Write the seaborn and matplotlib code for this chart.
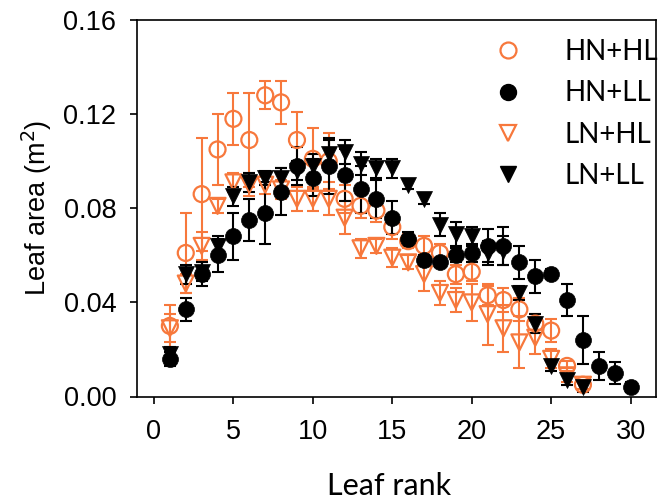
import numpy as np
import pandas as pd
import seaborn as sns
import matplotlib
matplotlib.use("Agg")
import matplotlib.pyplot as plt
from matplotlib.lines import Line2D

# ---------------- data ----------------
ranks_HNHL = list(range(1, 28))
HNHL_mean = [0.030, 0.061, 0.086, 0.105, 0.118, 0.109, 0.128, 0.125, 0.109, 0.101,
             0.100, 0.084, 0.081, 0.079, 0.072, 0.066, 0.064, 0.061, 0.052, 0.053,
             0.043, 0.041, 0.037, 0.031, 0.028, 0.013, 0.005]
HNHL_err = [0.009, 0.017, 0.024, 0.015, 0.011, 0.020, 0.006, 0.009, 0.012, 0.013,
            0.012, 0.006, 0.005, 0.005, 0.005, 0.003, 0.004, 0.004, 0.004, 0.004,
            0.004, 0.005, 0.005, 0.004, 0.005, 0.002, 0.002]

ranks_HNLL = list(range(1, 31))
HNLL_mean = [0.016, 0.037, 0.052, 0.060, 0.068, 0.075, 0.078, 0.087, 0.098, 0.093,
             0.098, 0.094, 0.088, 0.084, 0.076, 0.067, 0.058, 0.057, 0.060, 0.061,
             0.064, 0.064, 0.057, 0.051, 0.052, 0.041, 0.024, 0.013, 0.010, 0.004]
HNLL_err = [0.003, 0.005, 0.005, 0.007, 0.010, 0.009, 0.013, 0.010, 0.008, 0.008,
            0.012, 0.011, 0.010, 0.008, 0.007, 0.003, 0.002, 0.002, 0.003, 0.004,
            0.007, 0.008, 0.007, 0.007, 0.002, 0.007, 0.010, 0.006, 0.0045, 0.002]

ranks_LNHL = list(range(1, 28))
LNHL_mean = [0.029, 0.048, 0.064, 0.081, 0.091, 0.090, 0.090, 0.088, 0.084, 0.084,
             0.084, 0.076, 0.063, 0.064, 0.059, 0.057, 0.052, 0.044, 0.041, 0.040,
             0.035, 0.029, 0.023, 0.025, 0.016, 0.009, 0.005]
LNHL_err = [0.006, 0.004, 0.006, 0.003, 0.004, 0.005, 0.004, 0.004, 0.005, 0.005,
            0.007, 0.007, 0.004, 0.003, 0.004, 0.003, 0.007, 0.005, 0.005, 0.008,
            0.013, 0.010, 0.011, 0.007, 0.004, 0.003, 0.002]

ranks_LNLL = list(range(1, 28))
LNLL_mean = [0.018, 0.052, 0.053, 0.064, 0.085, 0.091, 0.093, 0.093, 0.096, 0.098,
             0.103, 0.104, 0.099, 0.097, 0.097, 0.090, 0.084, 0.073, 0.069, 0.068,
             0.061, 0.062, 0.044, 0.031, 0.013, 0.007, 0.004]
LNLL_err = [0.003, 0.004, 0.004, 0.004, 0.004, 0.004, 0.003, 0.004, 0.004, 0.005,
            0.006, 0.005, 0.005, 0.004, 0.004, 0.002, 0.002, 0.005, 0.005, 0.004,
            0.005, 0.006, 0.003, 0.004, 0.002, 0.002, 0.002]

series_names = ["HN+HL", "HN+LL", "LN+HL", "LN+LL"]
x_ticks = [0, 5, 10, 15, 20, 25, 30]
y_ticks = [0.00, 0.04, 0.08, 0.12, 0.16]

# ---------------- style ----------------
ORANGE = "#F7783C"
BLACK = "#000000"
MS = 11.5          # marker size in points (diameter)
tick_font = ["Liberation Sans", "DejaVu Sans"]
cal_font = ["Lato", "DejaVu Sans"]

fig = plt.figure(figsize=(6.62, 5.03), dpi=100)
ax = fig.add_axes([137 / 662, (503 - 396.5) / 503, (656 - 137) / 662, (396.5 - 20) / 503])

specs = {
    "HN+HL": (ranks_HNHL, HNHL_mean, HNHL_err, "o", ORANGE, False),
    "LN+HL": (ranks_LNHL, LNHL_mean, LNHL_err, "v", ORANGE, False),
    "HN+LL": (ranks_HNLL, HNLL_mean, HNLL_err, "o", BLACK, True),
    "LN+LL": (ranks_LNLL, LNLL_mean, LNLL_err, "v", BLACK, True),
}

for name in ["HN+HL", "LN+HL", "HN+LL", "LN+LL"]:
    xs, ys, es, mk, col, filled = specs[name]
    ax.errorbar(xs, ys, yerr=es, fmt="none", ecolor=col, elinewidth=1.5,
                capsize=4.5, capthick=1.5, zorder=2)
    df = pd.DataFrame({"rank": xs, "area": ys})
    sns.scatterplot(data=df, x="rank", y="area", marker=mk, s=MS ** 2, ax=ax,
                    color=col, zorder=3, legend=False)
    coll = ax.collections[-1]
    if filled:
        coll.set_facecolor(col)
        coll.set_edgecolor(col)
        coll.set_linewidth(0.5)
    else:
        coll.set_facecolor("none")
        coll.set_edgecolor(col)
        coll.set_linewidth(1.6)
    coll.set_zorder(3)

ax.set_xlim(-1.07, 31.6)
ax.set_ylim(0, 0.16)
ax.set_xticks(x_ticks)
ax.set_yticks(y_ticks)
ax.set_xticklabels([str(v) for v in x_ticks], family=tick_font, fontsize=19.5)
ax.set_yticklabels([f"{v:.2f}" for v in y_ticks], family=tick_font, fontsize=19.5)
ax.tick_params(axis="both", direction="out", length=5, width=1.2, color="black")
ax.tick_params(axis="x", pad=11)
ax.tick_params(axis="y", pad=10)
for sp in ax.spines.values():
    sp.set_linewidth(1.2)
    sp.set_color("black")

ax.set_xlabel("Leaf rank", family=cal_font, fontsize=22)
ax.xaxis.set_label_coords(0.485, -0.238)
ax.xaxis.label.set_va("center")
ax.set_ylabel("Leaf area (m$^2$)", family=tick_font, fontsize=19.5)
ax.yaxis.set_label_coords(-0.193, 0.5)
ax.yaxis.label.set_va("center")

handles = [
    Line2D([], [], linestyle="none", marker="o", markersize=MS, markerfacecolor="none",
           markeredgecolor=ORANGE, markeredgewidth=1.6),
    Line2D([], [], linestyle="none", marker="o", markersize=MS, markerfacecolor=BLACK,
           markeredgecolor=BLACK),
    Line2D([], [], linestyle="none", marker="v", markersize=MS, markerfacecolor="none",
           markeredgecolor=ORANGE, markeredgewidth=1.6),
    Line2D([], [], linestyle="none", marker="v", markersize=MS, markerfacecolor=BLACK,
           markeredgecolor=BLACK),
]
leg = ax.legend(handles, series_names, loc="upper left",
                bbox_to_anchor=((483 - 137) / 519, (396.5 - 28) / 376.5),
                frameon=False, prop={"family": cal_font, "size": 20},
                handlelength=1.0, handletextpad=1.55, labelspacing=0.55,
                borderaxespad=0)

fig.savefig("out.png", dpi=100)
